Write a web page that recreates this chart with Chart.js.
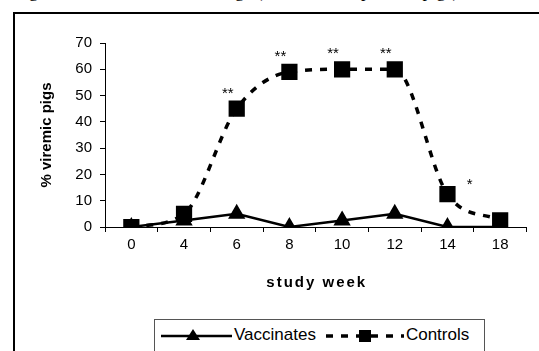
<!DOCTYPE html>
<html>
<head>
<meta charset="utf-8">
<script src="https://cdn.jsdelivr.net/npm/chart.js@4/dist/chart.umd.min.js"></script>
<style>
  html, body { margin: 0; padding: 0; background: #fff; }
  body { width: 539px; height: 351px; overflow: hidden; position: relative; }
  #caption { position: absolute; left: 14px; top: -19px; font: 18px "Liberation Serif", "Times New Roman", serif; white-space: nowrap; color: #000; }
  #frame { position: absolute; left: 13px; top: 12px; width: 600px; height: 400px; border: 2px solid #000; box-sizing: border-box; }
  #chart { position: absolute; left: 0; top: 0; }
  #legend { position: absolute; left: 154px; top: 319px; width: 331px; height: 40px; border: 1px solid #555; background: #fff; box-sizing: border-box;
            font: 17px "Liberation Sans", Arial, sans-serif; color: #000; display: flex; align-items: flex-start; padding-top: 5px; }
  #legend span { line-height: 19px; }
  #legend svg { display: block; }
</style>
</head>
<body>
<div id="caption">Figure 2. Viremia after challenge (% of viremic positive pigs)</div>
<div id="frame"></div>
<canvas id="chart" width="539" height="351"></canvas>
<div id="legend"></div>
<script>
// ===============================
// DONNEES
// ===============================
const weeks = ['0', '4', '6', '8', '10', '12', '14', '18'];
const vaccinates = [0, 2.5, 5, 0, 2.5, 5, 0, 0];
const controls = [0, 5, 45, 59, 60, 60, 12.5, 2.5];
const controlStars = ['', '', '**', '**', '**', '**', '', ''];
const yTicks = [0, 10, 20, 30, 40, 50, 60, 70];
// single star between week 14 and week 18
const lateStar = { from: 6, to: 7, value: 16, text: '*' };

const FONT = '"Liberation Sans", Arial, sans-serif';

// ===============================
// PLUGIN : asterisques + titre axe x (espacement des lettres)
// ===============================
const extrasPlugin = {
  id: 'extras',
  afterDatasetsDraw(chart) {
    const c = chart.ctx;
    const meta = chart.getDatasetMeta(1);
    const x = chart.scales.x, y = chart.scales.y;
    c.save();
    c.fillStyle = '#000';
    c.font = '15px ' + FONT;
    c.textAlign = 'center';
    c.textBaseline = 'middle';
    controlStars.forEach((s, i) => {
      if (!s) return;
      const p = meta.data[i];
      c.fillText(s, p.x - 9, p.y - 15);
    });
    const a = meta.data[lateStar.from], b = meta.data[lateStar.to];
    c.fillText(lateStar.text, a.x + (b.x - a.x) * 0.42, y.getPixelForValue(lateStar.value));

    // "study week"
    c.font = 'bold 15px ' + FONT;
    c.letterSpacing = '2px';
    c.fillText('study week', (x.left + x.right) / 2 + 1, 283);
    c.restore();
  }
};

// ===============================
// GRAPHIQUE
// ===============================
new Chart(document.getElementById('chart').getContext('2d'), {
  type: 'line',
  data: {
    labels: weeks,
    datasets: [
      {
        label: 'Vaccinates',
        data: vaccinates,
        borderColor: '#000',
        backgroundColor: '#000',
        borderWidth: 2.5,
        pointStyle: 'triangle',
        pointRadius: 7.5,
        tension: 0
      },
      {
        label: 'Controls',
        data: controls,
        borderColor: '#000',
        backgroundColor: '#000',
        borderWidth: 3.5,
        borderDash: [7, 8],
        pointStyle: 'rect',
        pointRadius: 9,
        cubicInterpolationMode: 'monotone'
      }
    ]
  },
  options: {
    responsive: false,
    animation: false,
    layout: { padding: { top: 43, right: 1, bottom: 0, left: 0 } },
    plugins: { legend: { display: false }, tooltip: { enabled: false } },
    scales: {
      x: {
        offset: true,
        grid: { offset: true, drawOnChartArea: false, drawTicks: true, tickLength: 5, color: '#000' },
        border: { color: '#000', width: 1 },
        ticks: { color: '#000', padding: 4, maxRotation: 0, font: { family: FONT, size: 15 } },
        afterFit: s => { s.height = 124; }
      },
      y: {
        min: 0,
        max: 70,
        afterBuildTicks: s => { s.ticks = yTicks.map(v => ({ value: v })); },
        grid: { drawOnChartArea: false, drawTicks: true, tickLength: 5, color: '#000' },
        border: { color: '#000', width: 1 },
        ticks: { color: '#000', padding: 8, font: { family: FONT, size: 15 } },
        title: { display: true, text: '% viremic pigs', color: '#000', padding: { top: 38 },
                 font: { family: FONT, size: 15, weight: 'bold' } },
        afterFit: s => { s.width = 105; }
      }
    }
  },
  plugins: [extrasPlugin]
});

// ===============================
// LEGENDE
// ===============================
document.getElementById('legend').innerHTML =
  '<svg width="79" height="19"><line x1="6" y1="11" x2="77" y2="11" stroke="#000" stroke-width="2.5"/>' +
  '<polygon points="38,4 45,15 31,15" fill="#000"/></svg>' +
  '<span>Vaccinates</span>' +
  '<svg width="88" height="19" style="margin-left:2px"><line x1="8" y1="11" x2="86" y2="11" stroke="#000" stroke-width="3.5" stroke-dasharray="7,8"/>' +
  '<rect x="41" y="5" width="12" height="12" fill="#000"/></svg>' +
  '<span>Controls</span>';
</script>
</body>
</html>
